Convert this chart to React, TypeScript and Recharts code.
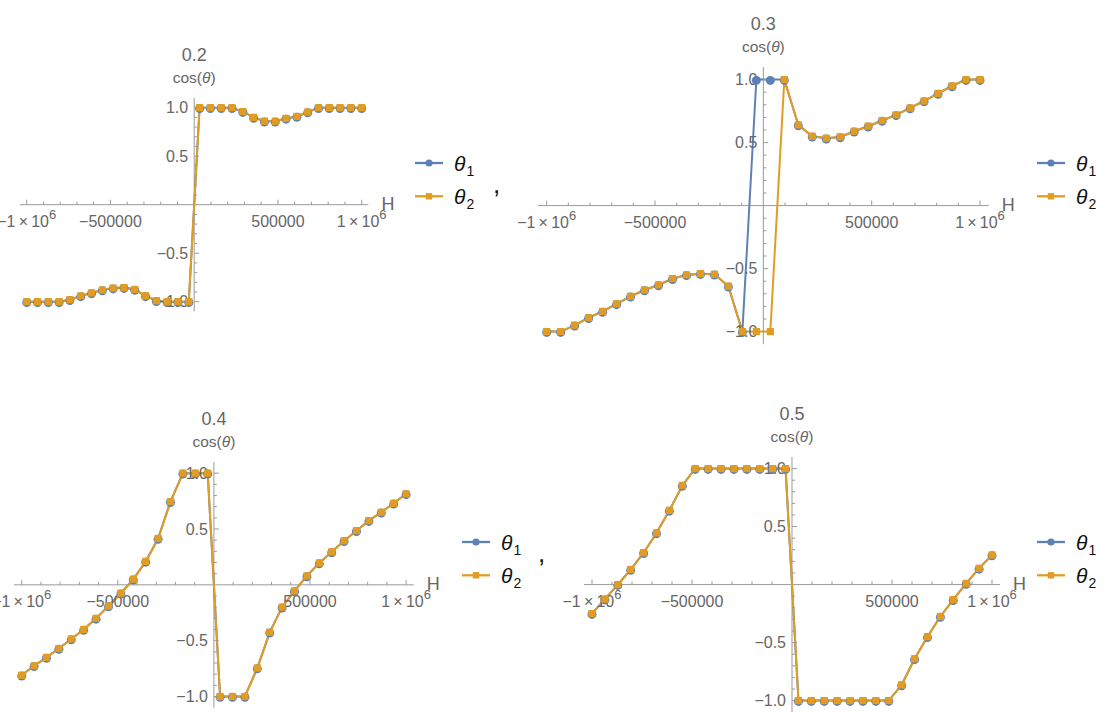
import React from "react";
import { LineChart, Line, XAxis, YAxis, ReferenceLine, ReferenceDot } from "recharts";

// field values H (32 samples from -1e6 to 1e6)
const hValues = [
  -1000000, -935484, -870968, -806452, -741935, -677419, -612903, -548387,
  -483871, -419355, -354839, -290323, -225806, -161290, -96774, -32258,
  32258, 96774, 161290, 225806, 290323, 354839, 419355, 483871,
  548387, 612903, 677419, 741935, 806452, 870968, 935484, 1000000,
];

const theta1At02 = [
  -1, -1, -1, -1, -0.98, -0.94, -0.91, -0.88, -0.86, -0.855, -0.875, -0.94, -0.99, -1, -1, -1,
  1, 1, 1, 1, 0.96, 0.9, 0.86, 0.86, 0.89, 0.91, 0.955, 1, 1, 1, 1, 1,
];
const theta2At02 = [
  -1, -1, -1, -1, -0.98, -0.94, -0.91, -0.88, -0.86, -0.855, -0.875, -0.94, -0.99, -1, -1, -1,
  1, 1, 1, 1, 0.96, 0.9, 0.86, 0.86, 0.89, 0.91, 0.955, 1, 1, 1, 1, 1,
];

const theta1At03 = [
  -1, -1, -0.95, -0.89, -0.84, -0.78, -0.72, -0.67, -0.63, -0.58, -0.55, -0.54, -0.545, -0.64, -1, 1,
  1, 1, 0.64, 0.55, 0.535, 0.545, 0.59, 0.63, 0.675, 0.72, 0.775, 0.83, 0.89, 0.95, 1, 1,
];
const theta2At03 = [
  -1, -1, -0.95, -0.89, -0.84, -0.78, -0.72, -0.67, -0.63, -0.58, -0.55, -0.54, -0.545, -0.64, -1, -1,
  -1, 1, 0.64, 0.55, 0.535, 0.545, 0.59, 0.63, 0.675, 0.72, 0.775, 0.83, 0.89, 0.95, 1, 1,
];

const theta1At04 = [
  -0.81, -0.725, -0.65, -0.57, -0.485, -0.4, -0.3, -0.19, -0.075, 0.05, 0.21, 0.415, 0.745, 1, 1, 1,
  -1, -1, -1, -0.745, -0.425, -0.2, -0.055, 0.08, 0.195, 0.295, 0.395, 0.485, 0.575, 0.65, 0.73, 0.815,
];
const theta2At04 = [
  -0.81, -0.725, -0.65, -0.57, -0.485, -0.4, -0.3, -0.19, -0.075, 0.05, 0.21, 0.415, 0.745, 1, 1, 1,
  -1, -1, -1, -0.745, -0.425, -0.2, -0.055, 0.08, 0.195, 0.295, 0.395, 0.485, 0.575, 0.65, 0.73, 0.815,
];

const theta1At05 = [
  -0.25, -0.125, 0, 0.13, 0.275, 0.445, 0.64, 0.855, 1, 1, 1, 1, 1, 1, 1, 1,
  -1, -1, -1, -1, -1, -1, -1, -1, -0.865, -0.64, -0.45, -0.275, -0.13, 0.01, 0.14, 0.255,
];
const theta2At05 = [
  -0.25, -0.125, 0, 0.13, 0.275, 0.445, 0.64, 0.855, 1, 1, 1, 1, 1, 1, 1, 1,
  -1, -1, -1, -1, -1, -1, -1, -1, -0.865, -0.64, -0.45, -0.275, -0.13, 0.01, 0.14, 0.255,
];

const xMajorTicks = [-1000000, -500000, 500000, 1000000];
const xTickLabels = ["−1\u2009×\u200910^6", "−500000", "500000", "1\u2009×\u200910^6"];
const xMinorTicks = [
  -900000, -800000, -700000, -600000, -400000, -300000, -200000, -100000,
  100000, 200000, 300000, 400000, 600000, 700000, 800000, 900000,
];
const yMajorTicks = [-1, -0.5, 0.5, 1];
const yTickLabels = ["−1.0", "−0.5", "0.5", "1.0"];
const yMinorTicks = [
  -0.9, -0.8, -0.7, -0.6, -0.4, -0.3, -0.2, -0.1, 0.1, 0.2, 0.3, 0.4, 0.6, 0.7, 0.8, 0.9,
];

const BLUE = "#5E81B5";
const ORANGE = "#E19C24";
const AXIS = "#9a9a9a";
const LABEL = "#666666";
const FONT = "'Liberation Sans', Arial, sans-serif";
const X_DOMAIN = [-1040000, 1040000];
const Y_DOMAIN = [-1.1, 1.1];

const panels = [
  { title: "0.2", t1: theta1At02, t2: theta2At02, left: 20, top: 98.3, w: 348.4, h: 213.4, legendX: 415, legendY: 162.5 },
  { title: "0.3", t1: theta1At03, t2: theta2At03, left: 537.9, top: 67.4, w: 450.7, h: 277.2, legendX: 1036.7, legendY: 162.7 },
  { title: "0.4", t1: theta1At04, t2: theta2At04, left: 14.4, top: 462.1, w: 399.8, h: 245.7, legendX: 461.7, legendY: 541.7 },
  { title: "0.5", t1: theta1At05, t2: theta2At05, left: 584.3, top: 457.4, w: 416, h: 255.2, legendX: 1036.7, legendY: 541.7 },
];

const commas = [
  { x: 493, y: 193 },
  { x: 538, y: 562 },
];

const M = { top: 60, right: 60, bottom: 40, left: 40 };

const xLabel = (label: string, cx: number, cy: number) => {
  const [base, sup] = label.split("^");
  return (
    <text x={cx} y={cy + 22} textAnchor="middle" fontSize={16} fill={LABEL} fontFamily={FONT}>
      {base}
      {sup && (
        <tspan dy={-7.5} fontSize={13}>
          {sup}
        </tspan>
      )}
    </text>
  );
};

const Panel = ({ p }: { p: any }) => {
  const data = hValues.map((h, i) => ({ h, t1: p.t1[i], t2: p.t2[i] }));
  return (
    <div style={{ position: "absolute", left: p.left - M.left, top: p.top - M.top }}>
      <LineChart width={p.w + M.left + M.right} height={p.h + M.top + M.bottom} data={data} margin={M}>
        <XAxis type="number" dataKey="h" domain={X_DOMAIN} allowDataOverflow hide />
        <YAxis type="number" domain={Y_DOMAIN} allowDataOverflow hide />
        <ReferenceLine y={0} stroke={AXIS} strokeWidth={1} />
        <ReferenceLine x={0} stroke={AXIS} strokeWidth={1} />
        {xMinorTicks.map((v) => (
          <ReferenceDot key={"xm" + v} x={v} y={0} r={0} ifOverflow="visible"
            shape={(s: any) => <line x1={s.cx} x2={s.cx} y1={s.cy} y2={s.cy - 3} stroke={AXIS} />} />
        ))}
        {xMajorTicks.map((v, i) => (
          <ReferenceDot key={"xM" + v} x={v} y={0} r={0} ifOverflow="visible"
            shape={(s: any) => (
              <g>
                <line x1={s.cx} x2={s.cx} y1={s.cy} y2={s.cy - 5} stroke={AXIS} />
                {xLabel(xTickLabels[i], s.cx, s.cy)}
              </g>
            )} />
        ))}
        {yMinorTicks.map((v) => (
          <ReferenceDot key={"ym" + v} x={0} y={v} r={0} ifOverflow="visible"
            shape={(s: any) => <line x1={s.cx} x2={s.cx + 3} y1={s.cy} y2={s.cy} stroke={AXIS} />} />
        ))}
        {yMajorTicks.map((v, i) => (
          <ReferenceDot key={"yM" + v} x={0} y={v} r={0} ifOverflow="visible"
            shape={(s: any) => (
              <g>
                <line x1={s.cx} x2={s.cx + 5} y1={s.cy} y2={s.cy} stroke={AXIS} />
                <text x={s.cx - 6} y={s.cy + 5.5} textAnchor="end" fontSize={16} fill={LABEL} fontFamily={FONT}>
                  {yTickLabels[i]}
                </text>
              </g>
            )} />
        ))}
        <ReferenceDot x={0} y={Y_DOMAIN[1]} r={0} ifOverflow="visible"
          shape={(s: any) => (
            <g fontFamily={FONT} fill={LABEL} textAnchor="middle">
              <text x={s.cx} y={s.cy - 37} fontSize={18}>{p.title}</text>
              <text x={s.cx} y={s.cy - 15} fontSize={15.5}>
                cos(<tspan fontStyle="italic">θ</tspan>)
              </text>
            </g>
          )} />
        <ReferenceDot x={X_DOMAIN[1]} y={0} r={0} ifOverflow="visible"
          shape={(s: any) => (
            <text x={s.cx + 13} y={s.cy + 5} fontSize={18} fill={LABEL} fontFamily={FONT}>H</text>
          )} />
        <Line type="linear" dataKey="t1" stroke={BLUE} strokeWidth={2} isAnimationActive={false} activeDot={false}
          dot={(d: any) => <circle key={"c" + d.index} cx={d.cx} cy={d.cy + 0.8} r={4.5} fill={BLUE} />} />
        <Line type="linear" dataKey="t2" stroke={ORANGE} strokeWidth={2} isAnimationActive={false} activeDot={false}
          dot={(d: any) => <rect key={"s" + d.index} x={d.cx - 3.6} y={d.cy - 3.6} width={7.2} height={7.2} fill={ORANGE} />} />
      </LineChart>
    </div>
  );
};

const LegendBox = ({ x, y }: { x: number; y: number }) => (
  <svg style={{ position: "absolute", left: x, top: y - 20, overflow: "visible" }} width={80} height={70}>
    <g fontFamily={FONT}>
      <line x1={0} x2={28} y1={20} y2={20} stroke={BLUE} strokeWidth={2.3} />
      <circle cx={14} cy={20} r={3.6} fill={BLUE} />
      <text x={39} y={27.5} fontSize={21} fontStyle="italic" fill="#111">θ</text>
      <text x={51.5} y={32.5} fontSize={14} fill="#111">1</text>
      <line x1={0} x2={28} y1={53.3} y2={53.3} stroke={ORANGE} strokeWidth={2.3} />
      <rect x={10.8} y={50.1} width={6.4} height={6.4} fill={ORANGE} />
      <text x={39} y={60.8} fontSize={21} fontStyle="italic" fill="#111">θ</text>
      <text x={51.5} y={65.8} fontSize={14} fill="#111">2</text>
    </g>
  </svg>
);

export default function App() {
  return (
    <div style={{ position: "absolute", left: 0, top: 0, width: 1113, height: 722, background: "#fff", overflow: "hidden" }}>
      {panels.map((p) => (
        <React.Fragment key={p.title}>
          <Panel p={p} />
          <LegendBox x={p.legendX} y={p.legendY} />
        </React.Fragment>
      ))}
      {commas.map((c, i) => (
        <div key={i} style={{ position: "absolute", left: c.x, top: c.y - 22, fontSize: 26, fontFamily: FONT, color: "#111", lineHeight: "26px" }}>
          ,
        </div>
      ))}
    </div>
  );
}
